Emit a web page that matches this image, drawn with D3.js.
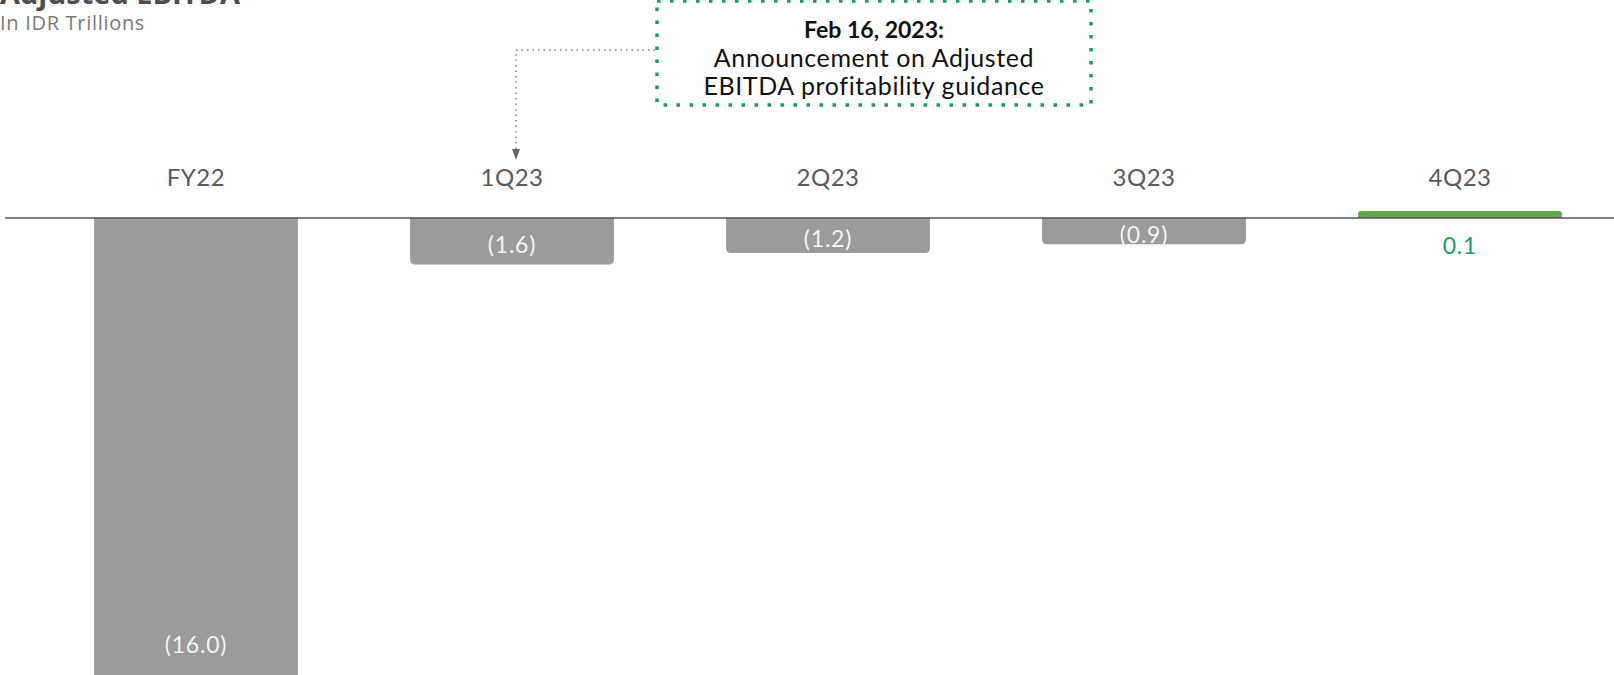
<!DOCTYPE html>
<html lang="en">
<head>
    <meta charset="utf-8">
    <script type="text/javascript" src="https://d3js.org/d3.v7.min.js"></script>
</head>
<style type="text/css">
    body{
      margin:0;
      background:#fff;
      overflow:hidden;
    }
    text{ font-family: Lato, "Open Sans", sans-serif; }
</style>
<body>
  <script type="text/javascript">

var categories = ["FY22", "1Q23", "2Q23", "3Q23", "4Q23"];
var values = [-16.0, -1.6, -1.2, -0.9, 0.1];
var valueLabels = ["(16.0)", "(1.6)", "(1.2)", "(0.9)", "0.1"];
var noteLines = ["Feb 16, 2023:", "Announcement on Adjusted", "EBITDA profitability guidance"];

var w = 1614;
var h = 675;
var svgMain = d3.select("body").append("svg")
  .attr("width", w).attr("height", h);

var x = d3.scaleBand()
  .domain(categories)
  .range([38, 1618])
  .paddingInner(0.355)
  .paddingOuter(0.1775);

var y = d3.scaleLinear()
  .domain([-16, 0])
  .range([683, 218]);

// title (mostly cut off at the top)
svgMain.append("text")
  .attr("x", 0).attr("y", 4)
  .style("font-family", "'Open Sans', sans-serif")
  .attr("font-weight", "bold")
  .attr("font-size", 29)
  .attr("fill", "#4d4d4d")
  .text("Adjusted EBITDA");

svgMain.append("text")
  .attr("x", 0).attr("y", 30)
  .style("font-family", "'Open Sans', sans-serif")
  .style("letter-spacing", "0.7px")
  .attr("font-size", 20)
  .attr("fill", "#7a7a7a")
  .text("In IDR Trillions");

// bar path with rounded corners on the far end
function barPath(d, i) {
  var x0 = x(categories[i]), bw = x.bandwidth();
  var y0 = y(0);
  var y1 = y(d);
  var r = 5;
  if (d >= 0) {
    y1 = Math.min(y1, y0 - 7);
    r = 3;
    return "M" + x0 + "," + y0 +
      "V" + (y1 + r) + "Q" + x0 + "," + y1 + " " + (x0 + r) + "," + y1 +
      "H" + (x0 + bw - r) + "Q" + (x0 + bw) + "," + y1 + " " + (x0 + bw) + "," + (y1 + r) +
      "V" + y0 + "Z";
  }
  return "M" + x0 + "," + y0 +
    "V" + (y1 - r) + "Q" + x0 + "," + y1 + " " + (x0 + r) + "," + y1 +
    "H" + (x0 + bw - r) + "Q" + (x0 + bw) + "," + y1 + " " + (x0 + bw) + "," + (y1 - r) +
    "V" + y0 + "Z";
}

svgMain.selectAll(".bar")
  .data(values)
  .enter().append("path")
  .attr("class", "bar")
  .attr("d", barPath)
  .attr("fill", function(d){ return d >= 0 ? "#63a84c" : "#9b9b9b"; });

// zero line
svgMain.append("line")
  .attr("x1", 5).attr("x2", w)
  .attr("y1", y(0)).attr("y2", y(0))
  .attr("stroke", "#555").attr("stroke-width", 1.5);

// category labels
svgMain.selectAll(".cat")
  .data(categories)
  .enter().append("text")
  .attr("class", "cat")
  .attr("x", function(d){ return x(d) + x.bandwidth()/2; })
  .attr("y", 178)
  .attr("dy", "0.35em")
  .attr("text-anchor", "middle")
  .attr("font-size", 24)
  .style("letter-spacing", "0.5px")
  .attr("fill", "#5a5a5a")
  .text(function(d){ return d; });

// value labels
svgMain.selectAll(".val")
  .data(values)
  .enter().append("text")
  .attr("class", "val")
  .attr("x", function(d, i){ return x(categories[i]) + x.bandwidth()/2; })
  .attr("y", function(d){
    if (d >= 0) return y(0) + 28;
    return Math.min(645, Math.max(y(d) - 30, (y(0) + y(d))/2 + 4));
  })
  .attr("dy", "0.35em")
  .attr("text-anchor", "middle")
  .attr("font-size", 23)
  .style("letter-spacing", "0.8px")
  .attr("fill", function(d){ return d >= 0 ? "#17a05d" : "#f4f4f4"; })
  .text(function(d, i){ return valueLabels[i]; });

// annotation box
svgMain.append("rect")
  .attr("x", 657).attr("y", 1)
  .attr("width", 434).attr("height", 104)
  .attr("fill", "none")
  .attr("stroke", "#17a05d")
  .attr("stroke-width", 3.5)
  .attr("stroke-dasharray", "3.5,9.5");

svgMain.selectAll(".note")
  .data(noteLines)
  .enter().append("text")
  .attr("class", "note")
  .attr("x", 874)
  .attr("y", function(d, i){ return 30 + i * 28; })
  .attr("dy", "0.35em")
  .attr("text-anchor", "middle")
  .attr("font-size", function(d, i){ return i == 0 ? 23 : 25; })
  .style("letter-spacing", function(d, i){ return i == 0 ? "0px" : "0.6px"; })
  .attr("font-weight", function(d, i){ return i == 0 ? "bold" : "normal"; })
  .attr("fill", "#111")
  .text(function(d){ return d; });

// connector to 1Q23
var cx = x("1Q23") + x.bandwidth()/2 + 4;
svgMain.append("path")
  .attr("d", "M655,50H" + cx + "V150")
  .attr("fill", "none")
  .attr("stroke", "#888")
  .attr("stroke-width", 1.5)
  .attr("stroke-dasharray", "1.5,4");
svgMain.append("path")
  .attr("d", "M" + (cx - 4) + ",149L" + (cx + 4) + ",149L" + cx + ",160Z")
  .attr("fill", "#666");

  </script>
</body>
</html>
